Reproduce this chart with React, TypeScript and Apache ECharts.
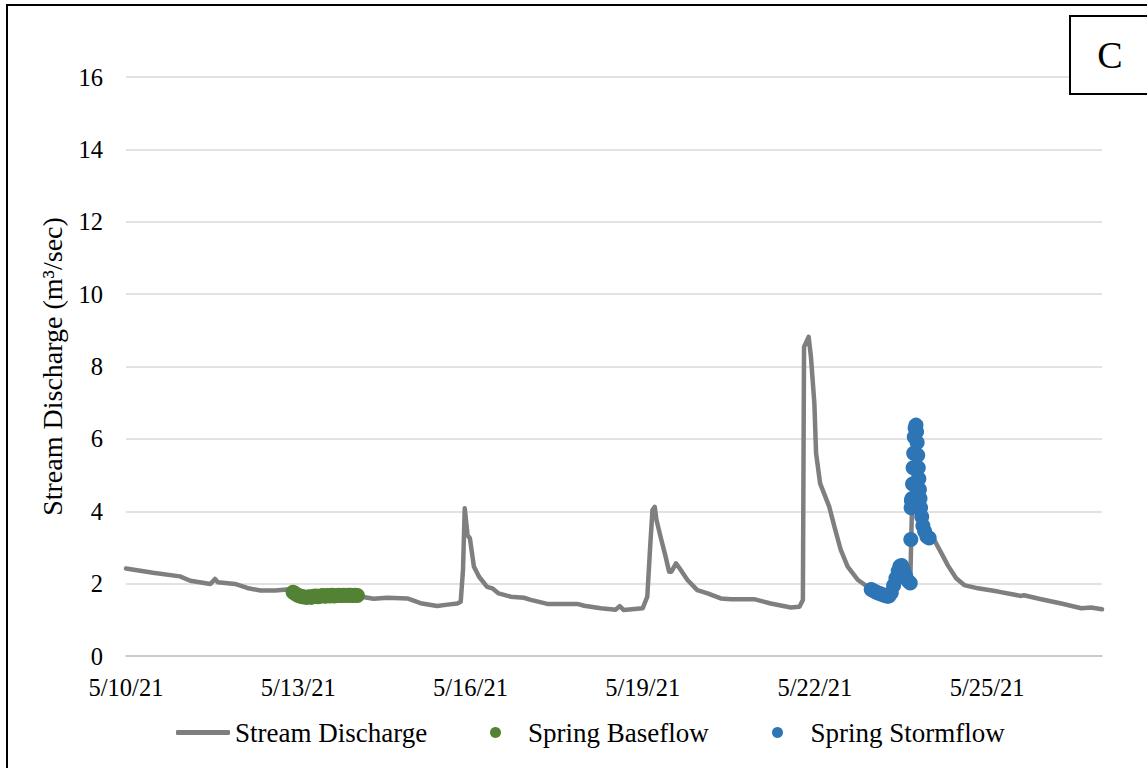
import React, { useEffect, useRef } from "react";
import * as echarts from "echarts";

// Days elapsed since 5/10/21 00:00
const START = { year: 2021, month: 5, day: 10 };
const xTickDays = [0, 3, 6, 9, 12, 15];

const streamDay = [
  0.0, 0.47, 0.94, 1.12, 1.47, 1.55, 1.6, 1.9, 2.11, 2.34, 2.6, 2.8, 2.91, 3.03, 3.2, 3.4, 3.6, 3.8, 4.03,
  4.31, 4.55, 4.9, 5.13, 5.42, 5.6, 5.77, 5.83, 5.87, 5.9, 5.95, 5.99, 6.06, 6.15, 6.29, 6.38, 6.49, 6.7,
  6.93, 7.05, 7.34, 7.6, 7.86, 7.98, 8.27, 8.53, 8.6, 8.67, 9.0, 9.08, 9.13, 9.17, 9.21, 9.24, 9.31, 9.4,
  9.46, 9.5, 9.58, 9.63, 9.78, 9.95, 10.13, 10.36, 10.54, 10.94, 11.23, 11.58, 11.73, 11.79, 11.81, 11.89,
  11.93, 11.99, 12.02, 12.09, 12.25, 12.34, 12.45, 12.57, 12.75, 12.92, 12.98, 13.29, 13.51, 13.62, 13.66,
  13.69, 13.76, 13.84, 13.95, 14.08, 14.2, 14.32, 14.46, 14.6, 14.84, 15.19, 15.59, 15.64, 15.94, 16.29,
  16.64, 16.81, 17.0,
];
const streamQ = [
  2.42, 2.3, 2.2, 2.08, 1.99, 2.13, 2.04, 1.99, 1.88, 1.81, 1.81, 1.84, 1.77, 1.66, 1.63, 1.65, 1.67, 1.67, 1.66,
  1.58, 1.61, 1.59, 1.46, 1.38, 1.42, 1.45, 1.5, 2.38, 4.08, 3.34, 3.25, 2.47, 2.19, 1.91, 1.87, 1.73, 1.64,
  1.61, 1.55, 1.44, 1.44, 1.44, 1.39, 1.32, 1.28, 1.38, 1.27, 1.32, 1.64, 3.02, 4.03, 4.12, 3.76, 3.3, 2.74,
  2.33, 2.33, 2.56, 2.45, 2.1, 1.82, 1.73, 1.59, 1.57, 1.57, 1.45, 1.34, 1.36, 1.55, 8.54, 8.82,
  8.27, 6.98, 5.6, 4.77, 4.12, 3.57, 2.93, 2.47, 2.1, 1.91, 1.84, 1.65, 2.5, 2.08, 2.02,
  4.1, 6.38, 4.1, 3.3, 3.2, 2.85, 2.49, 2.15, 1.96, 1.87, 1.78, 1.66, 1.68, 1.57, 1.45,
  1.32, 1.34, 1.29,
];

const baseDay = [
  2.91, 2.95, 2.99, 3.03, 3.07, 3.11, 3.15, 3.19, 3.23, 3.27, 3.31, 3.35, 3.39, 3.43, 3.47, 3.51, 3.55, 3.59,
  3.63, 3.67, 3.71, 3.75, 3.79, 3.83, 3.87, 3.91, 3.95, 3.99, 4.03,
];
const baseQ = [
  1.76, 1.72, 1.68, 1.66, 1.64, 1.63, 1.62, 1.64, 1.62, 1.65, 1.66, 1.64, 1.66, 1.67, 1.65, 1.67, 1.66, 1.68,
  1.66, 1.67, 1.68, 1.67, 1.68, 1.67, 1.68, 1.68, 1.67, 1.68, 1.67,
];

const stormDay = [
  12.98, 13.02, 13.06, 13.1, 13.14, 13.18, 13.22, 13.26, 13.29, 13.33, 13.37, 13.41, 13.45, 13.48, 13.51, 13.54,
  13.58, 13.62, 13.66, 13.67, 13.675, 13.68, 13.69, 13.7, 13.71, 13.72, 13.73, 13.745, 13.76, 13.77, 13.78,
  13.79, 13.8, 13.81, 13.82, 13.83, 13.84, 13.86, 13.88, 13.91, 13.95, 13.99,
];
const stormQ = [
  1.84, 1.8, 1.77, 1.74, 1.72, 1.69, 1.67, 1.65, 1.66, 1.75, 1.95, 2.15, 2.35, 2.48, 2.5, 2.38,
  2.22, 2.08, 2.02, 3.22, 4.1, 4.3, 4.35, 4.75, 5.2, 5.6, 6.05, 6.3, 6.38, 6.2, 5.9,
  5.55, 5.2, 4.9, 4.6, 4.35, 4.1, 3.85, 3.6, 3.45, 3.3, 3.26,
];

const FONT = "Liberation Serif";

function dayLabel(v: number): string {
  const d = new Date(START.year, START.month - 1, START.day + v);
  return `${d.getMonth() + 1}/${d.getDate()}/${String(d.getFullYear()).slice(2)}`;
}

const zip = (xs: number[], ys: number[]) => xs.map((x, i) => [x, ys[i]]);

export default function App() {
  const ref = useRef<HTMLDivElement>(null);
  useEffect(() => {
    if (!ref.current) return;
    const chart = echarts.init(ref.current, undefined, { renderer: "svg" });
    const legendBase = {
      top: 719,
      padding: 0,
      itemGap: 0,
    };
    const legendText = { fontFamily: FONT, fontSize: 27, color: "#000" };
    chart.setOption({
      animation: false,
      backgroundColor: "#fff",
      textStyle: { fontFamily: FONT, color: "#000" },
      grid: { left: 126, right: 45, top: 77, bottom: 112 },
      xAxis: {
        type: "value",
        min: 0,
        max: 17,
        interval: 3,
        axisLine: { show: true, lineStyle: { color: "#c4c4c4", width: 1.5 } },
        axisTick: { show: false },
        splitLine: { show: false },
        axisLabel: {
          margin: 19,
          fontFamily: FONT,
          fontSize: 24.5,
          color: "#000",
          formatter: (v: number) => (xTickDays.includes(v) ? dayLabel(v) : ""),
        },
      },
      yAxis: {
        type: "value",
        min: 0,
        max: 16,
        interval: 2,
        name: "Stream Discharge (m³/sec)",
        nameLocation: "middle",
        nameGap: 60,
        nameTextStyle: { fontFamily: FONT, fontSize: 28, color: "#000" },
        axisLine: { show: false },
        axisTick: { show: false },
        axisLabel: { margin: 23, fontFamily: FONT, fontSize: 24.5, color: "#000" },
        splitLine: { lineStyle: { color: "#d9d9d9", width: 1.5 } },
      },
      legend: [
        {
          ...legendBase,
          left: 176,
          itemWidth: 54,
          itemHeight: 5,
          textStyle: legendText,
          data: [{ name: "Stream Discharge", icon: "roundRect" }],
        },
        {
          ...legendBase,
          left: 490,
          itemWidth: 33,
          itemHeight: 11,
          textStyle: { ...legendText, padding: [0, 0, 0, 11] },
          data: ["Spring Baseflow"],
        },
        {
          ...legendBase,
          left: 772,
          itemWidth: 34,
          itemHeight: 11,
          textStyle: { ...legendText, padding: [0, 0, 0, 11] },
          data: ["Spring Stormflow"],
        },
      ],
      series: [
        {
          name: "Stream Discharge",
          type: "line",
          data: zip(streamDay, streamQ),
          showSymbol: false,
          symbol: "none",
          lineStyle: { color: "#7f7f7f", width: 4.5, cap: "round", join: "round" },
          itemStyle: { color: "#7f7f7f" },
          z: 2,
        },
        {
          name: "Spring Baseflow",
          type: "scatter",
          data: zip(baseDay, baseQ),
          symbolSize: 15,
          itemStyle: { color: "#548235", opacity: 1 },
          z: 3,
        },
        {
          name: "Spring Stormflow",
          type: "scatter",
          data: zip(stormDay, stormQ),
          symbolSize: 15,
          itemStyle: { color: "#2e75b6", opacity: 1 },
          z: 3,
        },
      ],
      graphic: [
        {
          type: "rect",
          shape: { x: 7, y: 5, width: 1160, height: 780 },
          style: { fill: "none", stroke: "#000", lineWidth: 2 },
          z: 10,
        },
        {
          type: "rect",
          shape: { x: 1070, y: 16, width: 90, height: 78 },
          style: { fill: "#fff", stroke: "#000", lineWidth: 2 },
          z: 10,
        },
        {
          type: "text",
          x: 1110,
          y: 55,
          style: {
            text: "C",
            fontFamily: FONT,
            fontSize: 38,
            fill: "#000",
            align: "center",
            verticalAlign: "middle",
          },
          z: 11,
        },
      ],
    });
    return () => chart.dispose();
  }, []);
  return (
    <div
      ref={ref}
      style={{ position: "fixed", left: 0, top: 0, width: 1147, height: 768 }}
    />
  );
}
